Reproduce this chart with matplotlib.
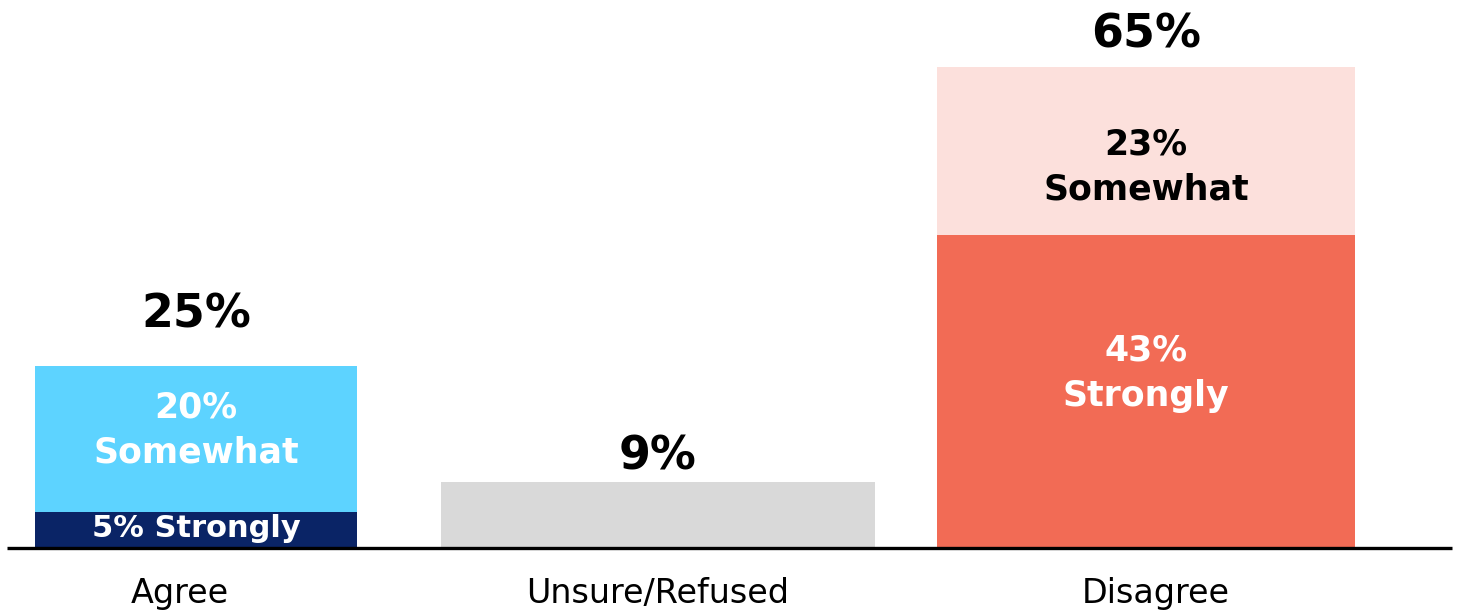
import matplotlib
matplotlib.use("Agg")
import matplotlib.pyplot as plt

# dane
kategorie = ["Agree", "Unsure/Refused", "Disagree"]
sumy = [25, 9, 65]
mocno = [5, 9, 43]          # dolny segment (Unsure = caly slupek)
troche = [20, 0, 23]        # gorny segment
etykiety_dol = ["5% Strongly", "", "43%\nStrongly"]
etykiety_gora = ["20%\nSomewhat", "", "23%\nSomewhat"]

# wyglad
kolory_dol = ["#0A2466", "#D9D9D9", "#F26B55"]
kolory_gora = ["#5DD3FF", "#D9D9D9", "#FCE0DC"]
kolory_txt_dol = ["white", "black", "white"]
kolory_txt_gora = ["white", "black", "black"]
rozm_dol = [22, 25, 25]
srodki = [196, 658, 1146]
szerokosci = [322, 434, 418]
przes_dol = [1, 0, 13]
przes_gora = [6, 0, -12]
przes_sumy = [20, 2, 12]
przes_kat = [-12, 0, 7]

W, H = 1459, 616
PX = 7.29   # piksele na 1%
DOL = 68    # baseline od dolu

fig = plt.figure(figsize=(W / 100, H / 100), dpi=100)
ax = fig.add_axes([0, 0, 1, 1])
ax.set_xlim(0, W)
ax.set_ylim(-DOL / PX, (H - DOL) / PX)
ax.axis("off")

font = "DejaVu Sans"

ax.bar(srodki, mocno, width=szerokosci, color=kolory_dol, align="center")
ax.bar(srodki, troche, bottom=mocno, width=szerokosci, color=kolory_gora, align="center")

ax.plot([7, 1452], [0, 0], color="black", lw=2.4, solid_capstyle="butt")

for i in range(len(kategorie)):
    # suma nad slupkiem
    ax.annotate(f"{sumy[i]}%", (srodki[i], sumy[i]), xytext=(0, przes_sumy[i]),
                textcoords="offset points", ha="center", va="bottom",
                fontsize=33, fontweight="bold", family=font)
    if etykiety_dol[i]:
        ax.annotate(etykiety_dol[i], (srodki[i], mocno[i] / 2), xytext=(0, przes_dol[i]),
                    textcoords="offset points", ha="center", va="center",
                    fontsize=rozm_dol[i], fontweight="bold", color=kolory_txt_dol[i],
                    family=font, linespacing=1.4)
    if etykiety_gora[i]:
        ax.annotate(etykiety_gora[i], (srodki[i], mocno[i] + troche[i] / 2),
                    xytext=(0, przes_gora[i]), textcoords="offset points",
                    ha="center", va="center", fontsize=25, fontweight="bold",
                    color=kolory_txt_gora[i], family=font, linespacing=1.4)
    ax.annotate(kategorie[i], (srodki[i], 0), xytext=(przes_kat[i], -33),
                textcoords="offset points", ha="center", va="center",
                fontsize=24, family=font)

fig.savefig("out.png", dpi=100)
